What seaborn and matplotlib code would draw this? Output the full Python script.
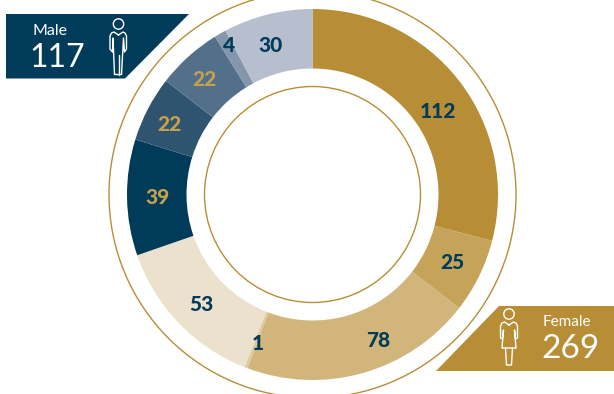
import matplotlib
matplotlib.use("Agg")
import matplotlib.pyplot as plt
from matplotlib.patches import Circle, Polygon
import numpy as np
import seaborn as sns

sns.set_theme(style="white")
plt.rcParams["font.family"] = ["Lato", "DejaVu Sans"]

# Group counts, going clockwise from twelve o'clock
values = [112, 25, 78, 1, 53, 39, 22, 22, 4, 30]
slice_colors = ["#B78E36", "#C5A358", "#D2B57B", "#DDC9A0", "#ECE1CD",
                "#003B5A", "#2F5470", "#52708A", "#8496AB", "#B7BFCE"]
label_colors = ["#003B5A"] * 5 + ["#C6A04C"] * 3 + ["#003B5A"] * 2
male_total = 117
female_total = 269

NAVY = "#003B5A"
GOLD = "#B78E36"
CX, CY = 312.5, 394 - 194.5

fig = plt.figure(figsize=(6.14, 3.94), dpi=100)
ax = fig.add_axes([0, 0, 1, 1])

ax.pie(values, colors=slice_colors, startangle=90, counterclock=False,
       center=(CX, CY), radius=185.5,
       wedgeprops=dict(width=185.5 - 126, linewidth=0))

# Thin rings around and inside the donut
for r in (203.5, 108):
    ax.add_patch(Circle((CX, CY), r, fill=False, ec=GOLD, lw=1.0, zorder=3))

# Value labels sit at the slice midpoints, nudged in pixels where needed
nudges = [(2.5, 11.5), (1, 0), (23, -3.6), (0.5, 3.8), (0.6, 3),
          (0, 0), (-5.5, 2), (-4.3, 0.7), (-6, -14.5), (-4.5, 1)]
edges = np.cumsum([0] + values) / sum(values) * 2 * np.pi
for i, v in enumerate(values):
    mid = (edges[i] + edges[i + 1]) / 2
    ax.text(CX + 155 * np.sin(mid) + nudges[i][0],
            CY + 155 * np.cos(mid) - nudges[i][1],
            str(v), color=label_colors[i], fontsize=15, fontweight="black",
            ha="center", va="center", zorder=4)


def flip(points):
    return [(x, 394 - y) for x, y in points]


# Banners
ax.add_patch(Polygon(flip([(6, 14), (189, 14), (125, 78.5), (6, 78.5)]),
                     fc=NAVY, ec="none", zorder=2))
ax.add_patch(Polygon(flip([(499, 306), (614, 306), (614, 370.5), (436, 370.5)]),
                     fc=GOLD, ec="none", zorder=2))

ax.text(49.5, 394 - 31, "Male", color="white", fontsize=11.5, ha="center", va="center")
ax.text(57, 394 - 58, str(male_total), color="white", fontsize=23, ha="center", va="center")
ax.text(567, 394 - 322, "Female", color="white", fontsize=11, ha="center", va="center")
ax.text(570.5, 394 - 348.5, str(female_total), color="white", fontsize=24, ha="center", va="center")

# Person pictograms
icon = dict(color="white", lw=1.0, zorder=5, solid_joinstyle="round")
ax.add_patch(Circle((118.5, 394 - 24), 5.2, fill=False, ec="white", lw=1.0, zorder=5))
male = [(118.5, 35), (114, 32), (111.5, 33), (110, 36), (110, 49), (112.5, 52),
        (113, 38), (114.5, 74.5), (121.5, 74.5), (123.5, 38), (124.5, 52), (126.5, 49),
        (126.5, 36), (125, 33), (123, 32), (118.5, 35)]
ax.plot(*zip(*flip(male)), **icon)
ax.plot(*zip(*flip([(118.5, 55), (118.5, 74.5)])), **icon)

ax.add_patch(Circle((509, 394 - 314), 5.2, fill=False, ec="white", lw=1.0, zorder=5))
female = [(509, 325), (504.5, 322), (502, 323), (500.5, 326), (500.5, 338), (502.5, 339),
          (503.5, 330), (502, 348), (516, 348), (514.5, 330), (515.5, 339), (517.5, 338),
          (517.5, 326), (516, 323), (513.5, 322), (509, 325)]
ax.plot(*zip(*flip(female)), **icon)
ax.plot(*zip(*flip([(505.5, 348), (506.5, 365), (511.5, 365), (512.5, 348)])), **icon)

ax.set_xlim(0, 614)
ax.set_ylim(0, 394)
ax.set_aspect("equal")
ax.axis("off")

fig.savefig("out.png", dpi=100, facecolor="white")
